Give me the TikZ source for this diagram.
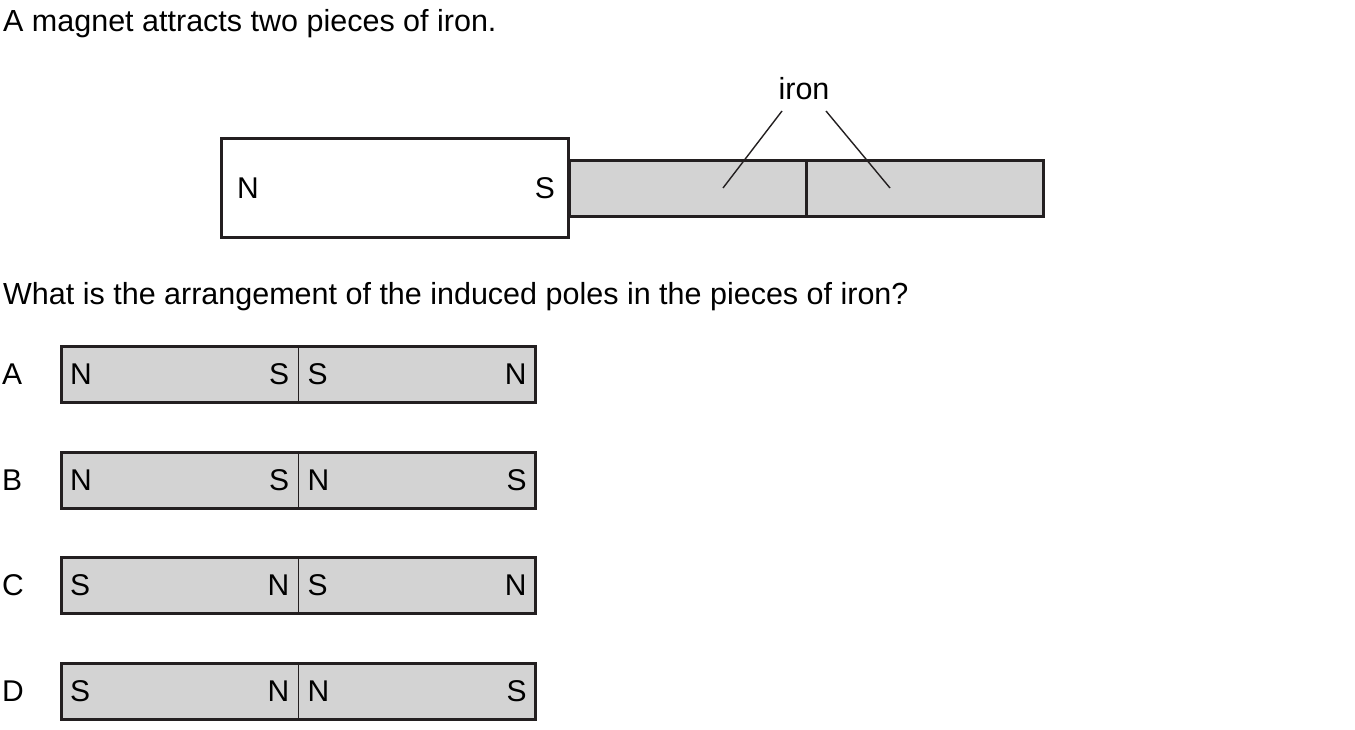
\documentclass[tikz,border=0pt]{standalone}
\usepackage{fontspec}
\setmainfont{Liberation Sans}
\definecolor{ironfill}{RGB}{211,211,211}
\definecolor{inkgray}{RGB}{35,31,32}
\tikzset{
  halfbar/.style={fill=ironfill,minimum width=237pt,minimum height=55pt,inner sep=0pt},
  barline/.style={draw=inkgray,line width=3pt},
  pole/.style={inner sep=0pt,font=\fontsize{30}{34}\selectfont},
  txt/.style={inner sep=0pt,anchor=base west,font=\fontsize{30.5}{34}\selectfont}
}
\begin{document}
\begin{tikzpicture}[x=1pt,y=-1pt]
    \useasboundingbox[fill=white] (0,0) rectangle (1355,730);
    % question text
    \node[txt] (title) at (3,32) {A magnet attracts two pieces of iron.};
    \node[txt] (quest) at (3,304) {What is the arrangement of the induced poles in the pieces of iron?};
    % magnet and iron
    \node[draw=inkgray,line width=3pt,minimum width=347pt,minimum height=99pt,inner sep=0pt] (mag) at (395,188) {};
    \node[pole,anchor=west] (magN) at ([xshift=17pt]mag.west) {N};
    \node[pole,anchor=east] (magS) at ([xshift=-15pt]mag.east) {S};
    \node[halfbar,anchor=west] (fe1) at (569,188.5) {};
    \node[halfbar,anchor=west] (fe2) at (fe1.east) {};
    \draw[barline] (fe1.north west) rectangle (fe2.south east);
    \draw[barline] (fe1.north east) -- (fe1.south east);
    \node[txt,anchor=base] (iron) at (804,100) {iron};
    \coordinate (p1) at (723,188);
    \coordinate (p2) at (890,188);
    \draw[inkgray,line width=1.4pt] (782,111) -- (p1);
    \draw[inkgray,line width=1.4pt] (826,111) -- (p2);
    % options
    \foreach \opt/\y/\a/\b/\c/\d in {A/374.5/N/S/S/N, B/480.5/N/S/N/S, C/585.5/S/N/S/N, D/691.5/S/N/N/S}{
      \node[pole,anchor=west] (lbl\opt) at (2,\y) {\opt};
      \node[halfbar,anchor=west] (\opt1) at (61,\y) {};
      \node[halfbar,anchor=west] (\opt2) at (\opt1.east) {};
      \draw[barline] (\opt1.north west) rectangle (\opt2.south east);
      \draw[inkgray,line width=1.6pt] (\opt1.north east) -- (\opt1.south east);
      \node[pole,anchor=west] at ([xshift=9pt]\opt1.west) {\a};
      \node[pole,anchor=east] at ([xshift=-9pt]\opt1.east) {\b};
      \node[pole,anchor=west] at ([xshift=9pt]\opt2.west) {\c};
      \node[pole,anchor=east] at ([xshift=-9pt]\opt2.east) {\d};
    }
\end{tikzpicture}
\end{document}
